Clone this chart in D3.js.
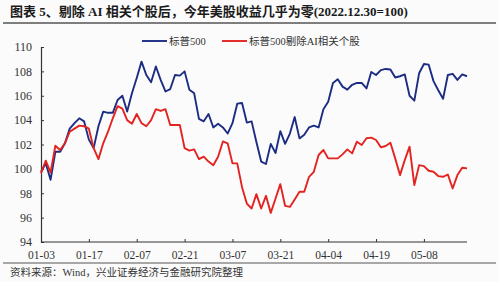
<!DOCTYPE html>
<html>
<head>
<meta charset="utf-8">
<script src="https://cdn.jsdelivr.net/npm/d3@7"></script>
<style>
  body { margin: 0; background: #fbfbfb; }
  svg { display: block; }
</style>
</head>
<body>
<svg id="chart" width="499" height="282"></svg>
<script>
// Chinese trading days 2023, 01-03 .. 05-19
var dates = [
  "01-03","01-04","01-05","01-06","01-09","01-10","01-11","01-12","01-13","01-16",
  "01-17","01-18","01-19","01-20","01-30","01-31","02-01","02-02","02-03","02-06",
  "02-07","02-08","02-09","02-10","02-13","02-14","02-15","02-16","02-17","02-20",
  "02-21","02-22","02-23","02-24","02-27","02-28","03-01","03-02","03-03","03-06",
  "03-07","03-08","03-09","03-10","03-13","03-14","03-15","03-16","03-17","03-20",
  "03-21","03-22","03-23","03-24","03-27","03-28","03-29","03-30","03-31","04-03",
  "04-04","04-06","04-07","04-10","04-11","04-12","04-13","04-14","04-17","04-18",
  "04-19","04-20","04-21","04-24","04-25","04-26","04-27","04-28","05-04","05-05",
  "05-08","05-09","05-10","05-11","05-12","05-15","05-16","05-17","05-18","05-19"
];

var spx = [
  99.76,100.45,99.1,101.4,101.4,102.1,103.3,103.75,104.15,103.9,
  102.4,101.7,103.5,104.7,104.6,104.6,105.65,106.0,104.7,106.2,
  107.45,108.8,107.7,107.1,108.4,107.3,106.35,106.55,107.7,107.65,
  108.0,106.5,106.2,104.1,103.9,104.5,103.4,103.7,103.4,102.9,
  103.75,105.35,105.4,103.8,103.9,102.2,100.6,100.4,102.05,101.3,
  103.1,102.05,102.9,104.25,102.5,102.8,103.4,103.55,103.4,104.9,
  105.5,107.05,107.35,106.75,106.5,106.9,107.05,107.05,106.6,107.95,
  107.7,108.1,108.2,108.15,107.5,107.6,107.75,106.0,105.6,107.85,
  108.6,108.55,107.2,106.45,105.75,107.7,107.8,107.3,107.75,107.6
];

var spxExAI = [
  99.63,100.67,99.7,101.9,101.55,102.1,103.05,103.3,103.55,103.5,
  103.3,101.7,100.8,102.1,103.05,104.15,105.15,104.95,104.0,103.7,
  104.5,103.75,103.5,104.0,104.9,104.75,104.9,103.6,103.6,103.6,
  101.7,101.5,101.6,100.8,101.0,100.6,100.3,101.0,102.25,102.1,
  100.45,100.45,98.5,97.15,96.75,97.93,96.75,97.79,96.39,97.57,
  98.75,96.97,96.88,97.49,98.12,98.12,99.35,99.76,101.14,101.55,
  100.86,100.86,100.86,101.19,101.6,101.27,102.23,101.96,102.51,102.56,
  102.37,101.77,101.88,102.15,100.86,99.49,100.72,101.82,98.67,100.31,
  100.23,99.85,99.76,99.41,99.35,99.54,98.39,99.49,100.09,100.04
];

var yTicks = [94, 96, 98, 100, 102, 104, 106, 108, 110];
var xTickLabels = ["01-03","01-17","02-07","02-21","03-07","03-21","04-04","04-19","05-08"];

var seriesNames = ["标普500", "标普500剔除AI相关个股"];
var seriesColors = ["#1c2c82", "#e3231f"];

var title = "图表 5、剔除 AI 相关个股后，今年美股收益几乎为零(2022.12.30=100)";
var source = "资料来源：Wind，兴业证券经济与金融研究院整理";

var svg = d3.select("#chart"),
  margin = {top: 47, right: 32, bottom: 40, left: 41},
  width = 499 - margin.left - margin.right,
  height = 282 - margin.top - margin.bottom;

var fontFamily = "'Liberation Serif', 'Times New Roman', 'Noto Sans CJK SC', serif";

// title + rules
svg.append("text")
  .attr("x", 10)
  .attr("y", 16)
  .attr("font-family", fontFamily)
  .attr("font-weight", "bold")
  .attr("font-size", 13)
  .attr("fill", "#1a1a1a")
  .text(title);

svg.append("line")
  .attr("x1", 3).attr("x2", 496)
  .attr("y1", 23).attr("y2", 23)
  .attr("stroke", "#555")
  .attr("stroke-width", 1.5);

svg.append("line")
  .attr("x1", 3).attr("x2", 496)
  .attr("y1", 263).attr("y2", 263)
  .attr("stroke", "#555")
  .attr("stroke-width", 1);

svg.append("text")
  .attr("x", 10)
  .attr("y", 276)
  .attr("font-family", fontFamily)
  .attr("font-size", 10.5)
  .attr("fill", "#333")
  .text(source);

var g = svg.append("g").attr("transform", "translate(" + margin.left + "," + margin.top + ")");

var x = d3.scaleLinear()
  .domain([0, dates.length - 1])
  .range([0, width]);

var y = d3.scaleLinear()
  .domain([94, 110])
  .range([height, 0]);

// y axis
var yAxis = g.append("g")
  .call(d3.axisLeft(y).tickValues(yTicks).tickSize(-3).tickPadding(9).tickFormat(d3.format("d")));
yAxis.select(".domain").attr("stroke", "#333").attr("stroke-width", 1.2);
yAxis.selectAll(".tick line").attr("stroke", "#333");
yAxis.selectAll("text")
  .attr("font-family", fontFamily)
  .attr("font-size", 12)
  .attr("fill", "#333");

// x axis
var tickIdx = xTickLabels.map(function(d) { return dates.indexOf(d); });
var xAxis = g.append("g")
  .attr("transform", "translate(0," + height + ")")
  .call(d3.axisBottom(x).tickValues(tickIdx).tickSize(-3).tickPadding(9)
    .tickFormat(function(d) { return dates[d]; }));
xAxis.select(".domain").attr("stroke", "#333").attr("stroke-width", 1.2)
  .attr("d", "M0,0H" + width);
xAxis.selectAll(".tick line").attr("stroke", "#333");
xAxis.selectAll("text")
  .attr("font-family", fontFamily)
  .attr("font-size", 11.5)
  .attr("fill", "#333");

var line = d3.line()
  .x(function(d, i) { return x(i); })
  .y(function(d) { return y(d); })
  .curve(d3.curveLinear);

[spx, spxExAI].forEach(function(s, k) {
  g.append("path")
    .datum(s)
    .attr("fill", "none")
    .attr("stroke", seriesColors[k])
    .attr("stroke-width", 1.9)
    .attr("stroke-linejoin", "round")
    .attr("d", line);
});

// legend
var legendX = [142, 222];
var legend = svg.append("g");
seriesNames.forEach(function(name, k) {
  legend.append("line")
    .attr("x1", legendX[k]).attr("x2", legendX[k] + 25)
    .attr("y1", 41).attr("y2", 41)
    .attr("stroke", seriesColors[k])
    .attr("stroke-width", 1.9);
  legend.append("text")
    .attr("x", legendX[k] + 27)
    .attr("y", 45)
    .attr("font-family", fontFamily)
    .attr("font-size", 10.5)
    .attr("fill", "#333")
    .text(name);
});
</script>
</body>
</html>
